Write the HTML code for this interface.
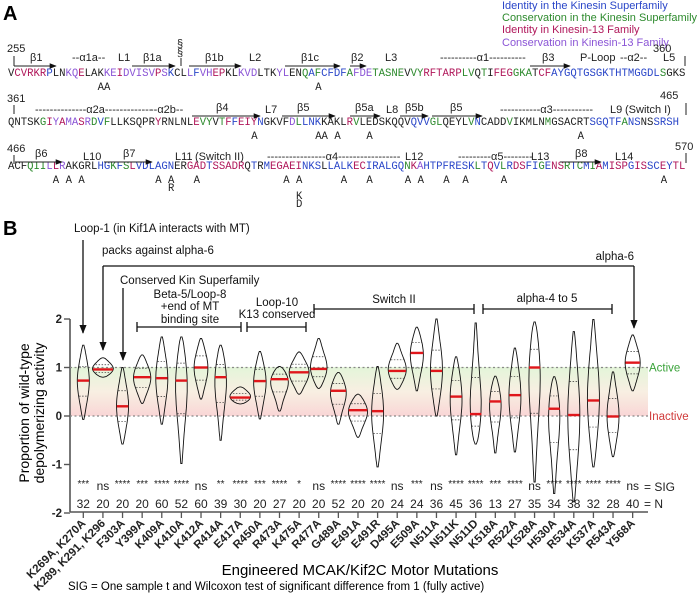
<!DOCTYPE html>
<html><head><meta charset="utf-8">
<style>
html,body{margin:0;padding:0;background:#fff;}
svg{display:block;font-family:"Liberation Sans",Arial,sans-serif;}
.seq{font-family:"Liberation Mono",monospace;font-size:10.6px;}
.ss{font-size:11px;fill:#222;}
</style></head>
<body>
<svg id="fig" width="700" height="594" viewBox="0 0 700 594" xmlns="http://www.w3.org/2000/svg">
<defs>
<marker id="ah" viewBox="0 0 10 10" refX="9" refY="5" markerWidth="7" markerHeight="7" orient="auto"><path d="M0,1 L10,5 L0,9 z" fill="#111"/></marker>
<linearGradient id="band" x1="0" y1="0" x2="0" y2="1">
<stop offset="0" stop-color="#e3f5d9"/><stop offset="0.5" stop-color="#f8efe2"/><stop offset="1" stop-color="#f9d6d6"/>
</linearGradient>
</defs>

<!-- Panel A -->
<text x="3" y="20" font-size="20" font-weight="bold">A</text>
<g font-size="11">
<text x="502" y="9" fill="#2a46c8">Identity in the Kinesin Superfamily</text>
<text x="502" y="21" fill="#2d8a2d">Conservation in the Kinesin Superfamily</text>
<text x="502" y="33" fill="#b0175a">Identity in Kinesin-13 Family</text>
<text x="502" y="46" fill="#8b55d6">Conservation in Kinesin-13 Family</text>
</g>
<g id="seqrows"></g>

<!-- Panel B -->
<text x="3" y="235" font-size="20" font-weight="bold">B</text>
<rect x="70" y="367" width="578" height="49" fill="url(#band)"/>
<g id="annot" font-size="11.5" fill="#111"></g>
<g id="chart"></g>
<text x="20" y="416" font-size="14" text-anchor="middle" transform="rotate(-90 26 413)"><tspan x="26" dy="0">Proportion of wild-type</tspan><tspan x="26" dy="15">depolymerizing activity</tspan></text>
<text x="360" y="575" font-size="15" text-anchor="middle">Engineered MCAK/Kif2C Motor Mutations</text>
<text x="68" y="590" font-size="11.5">SIG = One sample t and Wilcoxon test of significant difference from 1 (fully active)</text>
</svg>

<script>
// ---------- Chart data ----------
const categories = ["K269A, K270A","K289, K291, K296","F303A","Y399A","K409A","K410A","K412A","R414A","E417A","R450A","R473A","K475A","R477A","G489A","E491A","E491R","D495A","E509A","N511A","N511K","N511D","K518A","R522A","K528A","H530A","R534A","K537A","R543A","Y568A"];
const medians = [0.73,0.96,0.2,0.8,0.78,0.73,1.0,0.8,0.38,0.72,0.76,0.9,0.97,0.52,0.12,0.1,0.93,1.3,0.93,0.4,0.04,0.3,0.43,1.0,0.15,0.02,0.32,-0.01,1.1];
const maxVals = [1.46,1.2,1.0,1.26,1.63,1.63,1.6,1.46,0.6,1.33,1.02,1.32,1.6,0.9,0.45,1.02,1.5,1.83,2.0,1.22,1.92,0.82,1.4,1.94,0.81,1.74,1.99,0.91,1.67];
const minVals = [-0.07,0.8,-0.58,0.26,-0.17,-0.98,0.35,-0.5,0.25,-0.06,0.1,0.45,0.57,-0.17,-0.44,-1.05,0.55,0.52,0.0,-0.8,-0.58,-0.76,-0.74,-1.36,-1.6,-1.77,-1.05,-0.84,0.52];
const sigLabels = ["***","ns","****","***","****","****","ns","**","****","***","****","*","ns","****","****","****","ns","***","ns","****","****","***","****","ns","****","****","****","****","ns"];
const nValues = [32,20,20,20,60,52,60,39,30,20,27,20,20,52,20,20,24,24,36,45,36,13,27,35,34,38,32,28,40];
const yTicks = [2,1,0,-1,-2];

const NS='http://www.w3.org/2000/svg';
function mk(tag,attrs,parent){const e=document.createElementNS(NS,tag);for(const k in attrs)e.setAttribute(k,attrs[k]);if(parent)parent.appendChild(e);return e;}
function yScale(v){return 416-v*48.5;}
function xScale(i){return 83.3+i*19.62;}

const chart=document.getElementById('chart');
let ax=mk('line',{x1:70,y1:319,x2:70,y2:512,stroke:'#555','stroke-width':1.6},chart);


let xa=mk('line',{x1:70,y1:512,x2:648,y2:512,stroke:'#555','stroke-width':1.6},chart);


yTicks.forEach(t=>{
  const y=yScale(t);
  const tk=mk('line',{x1:64,y1:y,x2:70,y2:y,stroke:'#555','stroke-width':1.4},chart);
  
  
  const tl=mk('text',{x:62,y:y+4,'text-anchor':'end','font-size':11.5,'font-weight':'bold',fill:'#222'},chart);
  tl.textContent=t;
  
  
});
[[1,'#5a9a3a','Active','#3aa33a'],[0,'#c05050','Inactive','#d03a3a']].forEach(r=>{
  const y=yScale(r[0]);
  const l=mk('line',{x1:70,y1:y,x2:648,y2:y,stroke:'#888','stroke-width':1.3,'stroke-dasharray':'2,2.5'},chart);
  
  
  const t=mk('text',{x:649,y:y+4,'font-size':11.5,fill:r[3]},chart);
  t.textContent=r[2];
  
  
});
categories.forEach((c,i)=>{
  const cx=xScale(i), lo=minVals[i], hi=maxVals[i], md=medians[i];
  const yt=yScale(hi), yb=yScale(lo), ym=yScale(md), rp=yb-yt;
  const W=Math.min(10.5,Math.max(6,420/rp));
  const sd=Math.max(rp/3.5,7);
  const N=30, R=[], L=[];
  for(let k=0;k<=N;k++){
    const y=yt+rp*k/N, t=k/N;
    let w=W*(0.3+0.7*Math.exp(-Math.pow((y-ym)/sd,2)/2))*Math.pow(Math.sin(Math.PI*t),0.4);
    w=Math.max(w,0.6);
    R.push((cx+w).toFixed(1)+','+y.toFixed(1));
    L.unshift((cx-w).toFixed(1)+','+y.toFixed(1));
  }
  const g=mk('g',{},chart);
  
  
  mk('path',{d:'M'+R.join(' L')+' L'+L.join(' L')+' Z',fill:'none',stroke:'#111','stroke-width':0.9},g);
  [md+(hi-md)*0.4, md-(md-lo)*0.4].forEach(q=>{
    const qy=yScale(q);
    mk('line',{x1:cx-W*0.7,y1:qy,x2:cx+W*0.7,y2:qy,stroke:'#333','stroke-width':0.7,'stroke-dasharray':'1.5,1.5'},g);
  });
  mk('line',{x1:cx-W*0.95,y1:ym,x2:cx+W*0.95,y2:ym,stroke:'#e0161b','stroke-width':2.4},g);
  mk('line',{x1:cx,y1:512,x2:cx,y2:518,stroke:'#555','stroke-width':1.3},g);
  const s=mk('text',{x:cx,y:sigLabels[i]==='ns'?490:487,'text-anchor':'middle','font-size':sigLabels[i]==='ns'?12:10,fill:'#222'},chart);
  s.textContent=sigLabels[i];
  
  
  const n=mk('text',{x:cx,y:508,'text-anchor':'middle','font-size':12,fill:'#222'},chart);
  n.textContent=nValues[i];
  
  
  const xl=mk('text',{x:cx+3,y:524,'text-anchor':'end','font-size':11.5,'font-weight':'bold',fill:'#222',transform:'rotate(-45 '+(cx+3)+' 524)'},chart);
  xl.textContent=c;
  
  
});
let e1=mk('text',{x:644,y:491,'font-size':12,fill:'#222'},chart);e1.textContent='= SIG';


let e2=mk('text',{x:644,y:508,'font-size':12,fill:'#222'},chart);e2.textContent='= N';



// ---------- annotations ----------
const an=document.getElementById('annot');
function T(x,y,s,name,anchor){const t=mk('text',{x:x,y:y,'text-anchor':anchor||'start'},an);t.textContent=s;return t;}
function Ln(x1,y1,x2,y2,arrow){const l=mk('line',{x1,y1,x2,y2,stroke:'#111','stroke-width':1.3},an);if(arrow)l.setAttribute('marker-end','url(#ah)');return l;}
T(74,232,'Loop-1 (in Kif1A interacts with MT)','loop1-annotation');
Ln(83,240,83,333,true);
T(102,254,'packs against alpha-6','packs-annotation');
T(634,260,'alpha-6','alpha6-annotation','end');
Ln(103,266,634,266);Ln(103,266,103,350,true);Ln(634,266,634,328,true);
T(120,284,'Conserved Kin Superfamily','conserved-annotation');
Ln(123,288,123,360,true);
T(190,298,'Beta-5/Loop-8','beta5-annotation','middle');
T(190,310,'+end of MT','beta5-annotation-2','middle');
T(190,323,'binding site','beta5-annotation-3','middle');
Ln(137,327,241,327);Ln(137,322,137,332);Ln(241,322,241,332);
T(277,306,'Loop-10','loop10-annotation','middle');
T(277,318,'K13 conserved','loop10-annotation-2','middle');
Ln(247,327,306,327);Ln(247,322,247,332);Ln(306,322,306,332);
T(394,303,'Switch II','switch2-annotation','middle');
Ln(314,309,474,309);Ln(314,304,314,314);Ln(474,304,474,314);
T(547,302,'alpha-4 to 5','alpha45-annotation','middle');
Ln(483,309,612,309);Ln(483,304,483,314);Ln(612,304,612,314);

// ---------- Panel A sequences ----------
const seqs=[
 "VCVRKRPLNKQELAKKEIDVISVPSKCLLFVHEPKLKVDLTKYLENQAFCFDFAFDETASNEVVYRFTARPLVQTIFEGGKATCFAYGQTGSGKTHTMGGDLSGKS",
 "QNTSKGIYAMASRDVFLLKSQPRYRNLNLEVYVTFFEIYNGKVFDLLNKKAKLRVLEDSKQQVQVVGLQEYLVNCADDVIKMLNMGSACRTSGQTFANSNSSRSH",
 "ACFQIILLRAKGRLHGKFSLVDLAGNERGADTSSADRQTRMEGAEINKSLLALKECIRALGQNKAHTPFRESKLTQVLRDSFIGENSRTCMIAMISPGISSCEYTL"];
const codes=[
 "krrrrrbkkpprkkkpprppppprpbkkpbpprrkkpppkkkppkkgbgbbbbgpppgggggkggrrrrrrggkgkrrrgggkrrbbbbbbbbbbbbbbbbbgkkkkk",
 "kkkkkgrprpprpgbgkkkkkkkrkkkkkrggkgrbrrrbkkkkpgbbbkkkkrgkkkkkkkkbbbggkkkkgbkkkkgkkkkkgkkkkkkbbbbbgbbkkbbbbbbbb",
 "kkkgggprpkkkkkbbgbgrbbbbbbkkrrrbrrrrrkbkbrrrrrbbbkbbbbrrbbbbbbgrpbbbbbbbbgbrbgbrrbbgbrrgbgbgrbrrrbrrbbrbrrrbgp"];
const colMap={k:'#222',b:'#2a46c8',g:'#2d8a2d',r:'#b0175a',p:'#8b55d6'};
const rowY=[76,125,169];
const seqG=document.getElementById('seqrows');
seqs.forEach((s,r)=>{
  const t=mk('text',{x:8,y:rowY[r],class:'seq',textLength:s.length*6.4-1,lengthAdjust:'spacingAndGlyphs'},seqG);
  
  
  for(let i=0;i<s.length;i++){const sp=mk('tspan',{fill:colMap[codes[r][i]]||'#222'},t);sp.textContent=s[i];}
});
const marks=[[0,14,'AA',0],[0,48,'A',0],[1,38,'A',0],[1,48,'AA',0],[1,51,'A',0],[1,56,'A',0],[1,89,'A',0],
 [2,7,'A',0],[2,9,'A',0],[2,11,'A',0],[2,23,'A',0],[2,25,'A',0],[2,25,'R',8],[2,29,'A',0],[2,43,'A',0],[2,45,'A',0],[2,45,'K',16],[2,45,'D',24],
 [2,52,'A',0],[2,56,'A',0],[2,62,'A',0],[2,64,'A',0],[2,68,'A',0],[2,71,'A',0],[2,77,'A',0],[2,102,'A',0]];
marks.forEach(m=>{
  const t=mk('text',{x:8+m[1]*6.4,y:rowY[m[0]]+14+m[3],class:'seq','font-size':10,fill:'#222'},seqG);
  t.textContent=m[2];
  
  
});
function S(x,y,s,fill,anchor){const t=mk('text',{x:x,y:y,class:'ss',fill:fill||'#222','text-anchor':anchor||'start'},seqG);t.textContent=s;}
function A(x1,x2,y){const l=mk('line',{x1:x1,y1:y,x2:x2,y2:y,stroke:'#222','stroke-width':1,'marker-end':'url(#ah)'},seqG);}
function V(x,y1,y2){mk('line',{x1:x,y1:y1,x2:x,y2:y2,stroke:'#222','stroke-width':1},seqG);}
S(7,52,'255');V(14,56,66);S(653,52,'360','#222');V(685,56,66);S(30,61,'β1');A(14,56,66);S(72,61,'--α1a--');S(118,61,'L1');
S(143,61,'β1a');A(132,175,66);S(177,47,'§');S(177,56,'§');V(181,58,66);S(205,61,'β1b');A(189,241,66);S(249,61,'L2');
S(301,61,'β1c');A(285,340,66);S(351,61,'β2');A(350,366,66);S(385,61,'L3');S(440,61,'----------α1----------');
S(542,61,'β3');A(530,570,66);S(580,61,'P-Loop','#2a46c8');S(620,61,'--α2--');S(663,61,'L5');
S(7,102,'361');V(14,105,114);S(35,113,'--------------α2a-------------');S(150,113,'--α2b--');S(216,111,'β4');A(192,260,116);S(265,113,'L7');
S(297,111,'β5');A(282,335,116);S(355,111,'β5a');A(350,380,116);S(386,113,'L8');S(405,111,'β5b');A(400,428,116);S(450,111,'β5');A(432,482,116);
S(500,113,'-----------α3-----------');S(610,113,'L9');S(625,113,'(Switch I)','#2a46c8');S(660,99,'465');V(686,103,115);
S(7,152,'466');V(14,155,164);S(35,157,'β6');A(15,62,162);S(83,160,'L10');S(123,157,'β7');A(104,152,162);S(175,160,'L11');S(195,160,'(Switch II)','#2a46c8');
S(267,160,'----------------α4-----------------');S(405,160,'L12');S(458,160,'---------α5--------');S(531,160,'L13');S(575,157,'β8');A(560,601,162);S(615,160,'L14');
S(675,150,'570');V(686,153,163);
</script>
</body></html>
